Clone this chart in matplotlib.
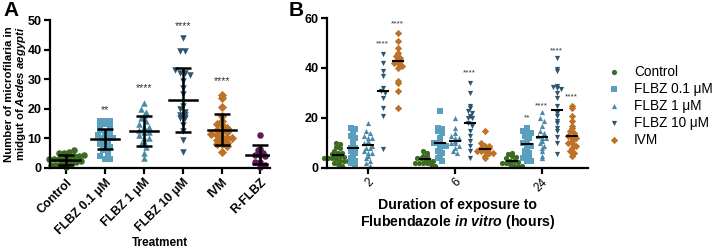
import numpy as np
import matplotlib
matplotlib.use("Agg")
from matplotlib import pyplot as plt

plt.rcParams['font.family'] = ['Liberation Sans', 'DejaVu Sans']
plt.rcParams['mathtext.fontset'] = 'custom'
plt.rcParams['mathtext.it'] = 'Liberation Sans:italic:bold'
plt.rcParams['mathtext.rm'] = 'Liberation Sans:bold'

# ---- panel A data (counts per mosquito) ----
a_groups = ["Control", "FLBZ 0.1 \u03bcM", "FLBZ 1 \u03bcM", "FLBZ 10 \u03bcM", "IVM", "R-FLBZ"]
a_control = [0.5, 1, 1, 1.5, 2, 2, 2, 2.5, 3, 3, 3, 3, 3.5, 4, 4, 4.5, 5, 5, 5.5, 6]
a_flbz01 = [16, 16, 16, 15, 15, 14, 13, 12, 12, 11, 10, 10, 10, 9, 9, 8, 8, 7, 6, 5, 4, 3, 3]
a_flbz1 = [22, 20, 19, 18, 17, 16, 15, 14, 14, 13, 12, 12, 11, 10, 10, 9, 8, 7, 5, 3.5]
a_flbz10 = [44, 39.5, 39.5, 33, 32, 32, 31.5, 29.5, 27, 25, 21, 20, 19, 18, 18, 17, 17, 14.5, 12.5, 9.5, 5.5]
a_ivm = [24.5, 23.5, 20.5, 17.5, 16, 15, 14.5, 13.5, 13, 12.5, 12, 11.5, 11, 10.5, 10, 10, 9.5, 9, 8.5, 8, 8, 7.5, 5.5]
a_rflbz = [11, 6.5, 6, 5, 4.5, 4.5, 4, 2, 2, 1, 0.5]
a_mean = [2.8, 9.8, 12.5, 23.0, 13.0, 4.5]
a_sd = [1.7, 3.5, 5.0, 10.8, 5.2, 3.2]
a_stars = ["", "**", "****", "****", "****", ""]
a_star_y = [0, 19.5, 27, 48, 29.5, 0]

# ---- panel B data ----
b_times = ["2", "6", "24"]
b_series = ["Control", "FLBZ 0.1 \u03bcM", "FLBZ 1 \u03bcM", "FLBZ 10 \u03bcM", "IVM"]
b_control = [
    [10, 9.5, 8.5, 8, 7, 6, 6, 5.5, 5, 5, 4.5, 4, 4, 4, 3.5, 3, 3, 3, 2.5, 2, 1.5, 1],
    [7, 6, 5, 5, 4, 4, 3, 3, 3, 2, 2, 2, 2, 1.5, 1],
    [6, 5.5, 5, 4.5, 4, 3, 3, 2.5, 2, 2, 1.5, 1, 1, 1],
]
b_flbz01 = [
    [16, 15.5, 14, 13, 12, 11, 9, 8, 8, 7, 6, 5, 4, 3, 2, 1.5],
    [23, 16, 15.5, 15, 14, 12, 11, 10, 10, 9, 9, 8, 7, 6, 5, 4, 3],
    [16, 15, 15, 14, 13, 12, 11, 10, 10, 9, 8, 7, 6, 5, 5, 4, 3, 3],
]
b_flbz1 = [
    [18, 15, 14, 13, 12, 12, 11, 10, 10, 9, 8, 8, 7, 6, 6, 5, 4, 3, 2, 1],
    [20, 16, 14, 13, 12, 12, 11, 10, 10, 9, 8, 7, 6],
    [22.5, 20, 19, 17, 15, 14, 13, 12, 12, 11, 10, 9, 8, 7, 5, 4],
]
b_flbz10 = [
    [45.5, 42, 39, 37, 32, 31, 30, 28, 24, 21, 7.5],
    [34, 30, 25, 24, 23, 22, 21, 20, 20, 18, 17, 15, 13, 11, 9, 7, 4],
    [44, 39.5, 39, 33, 32.5, 32, 31.5, 30, 28, 25, 22, 21, 19, 18, 16, 15, 12.5, 10, 5.5],
]
b_ivm = [
    [54, 51, 48, 46, 45, 44, 43, 43, 42, 42, 41, 40, 35, 34, 31, 24],
    [15, 10, 9, 9, 8, 8, 8, 7, 7, 7, 6, 6, 5, 4],
    [25, 24, 21, 19, 17, 16, 15, 14, 13, 12, 12, 11, 10, 10, 9, 8, 7, 6, 5],
]
b_mean = [
    [5.3, 8.0, 9.3, 31.0, 42.7],
    [3.7, 10.2, 11.0, 18.2, 7.8],
    [2.7, 9.7, 12.3, 23.3, 13.0],
]
b_stars = [
    ["", "", "", "****", "****"],
    ["", "", "", "****", ""],
    ["", "**", "****", "****", "****"],
]
b_star_y = [
    [0, 0, 0, 49.5, 57.5],
    [0, 0, 0, 38, 0],
    [0, 20, 25, 47, 28.5],
]

colors = ["#3b6b1e", "#5b9fbf", "#4a8aa8", "#2d566e", "#bd7228", "#62195a"]
markers = ["o", "s", "^", "v", "D", "o"]


def swarm(values, bin_w, step):
    # Prism-like scatter: values in the same bin are spread sideways
    v = np.asarray(values, dtype=float)
    bins = np.round(v / bin_w)
    off = np.zeros(len(v))
    for b in np.unique(bins):
        idx = np.where(bins == b)[0]
        k = len(idx)
        off[idx] = (np.arange(k) - (k - 1) / 2.0) * step
    return off


fig = plt.figure(figsize=(7.17, 2.5), dpi=100)

# ---------------- panel A ----------------
axA = fig.add_axes([0.0697, 0.328, 0.307, 0.592])
a_data = [a_control, a_flbz01, a_flbz1, a_flbz10, a_ivm, a_rflbz]
for i, vals in enumerate(a_data):
    off = swarm(vals, 1.8, 0.13)
    axA.scatter(i + off, vals, s=22, marker=markers[i], color=colors[i],
                linewidths=0, clip_on=False, zorder=2)
    m, sd = a_mean[i], a_sd[i]
    axA.plot([i - 0.36, i + 0.36], [m, m], color='black', lw=1.8, zorder=3)
    axA.errorbar(i, m, yerr=sd, fmt='none', ecolor='black', elinewidth=1.8,
                 capsize=6, capthick=1.8, zorder=3)
    if a_stars[i]:
        axA.text(i, a_star_y[i], a_stars[i], ha='center', va='center',
                 fontsize=7.5, color='#333333')

axA.set_xlim(-0.42, 5.25)
axA.set_ylim(0, 50)
axA.set_yticks([0, 10, 20, 30, 40, 50])
axA.set_xticks(range(len(a_groups)))
axA.set_xticklabels(a_groups, rotation=45, ha='right', rotation_mode='anchor',
                    fontsize=8.8, fontweight='bold')
for lab in axA.get_yticklabels():
    lab.set_fontweight('bold')
    lab.set_fontsize(9)
axA.set_ylabel("Number of microfilaria in\nmidgut of $\\it{Aedes\\ aegypti}$",
               fontsize=8.2, fontweight='bold', labelpad=0, linespacing=1.0)
axA.set_xlabel("Treatment", fontsize=8.5, fontweight='bold', labelpad=0)

# ---------------- panel B ----------------
axB = fig.add_axes([0.456, 0.328, 0.364, 0.6])
b_data = [b_control, b_flbz01, b_flbz1, b_flbz10, b_ivm]
n_s = len(b_series)
gap = 0.172
handles = []
for j in range(len(b_times)):
    for k in range(n_s):
        x0 = j + (k - (n_s - 1) / 2.0) * gap
        vals = b_data[k][j]
        off = swarm(vals, 1.6, 0.045)
        h = axB.scatter(x0 + off, vals, s=14, marker=markers[k], color=colors[k],
                        linewidths=0, clip_on=False, zorder=2)
        if j == 0:
            handles.append(h)
        m = b_mean[j][k]
        axB.plot([x0 - 0.055, x0 + 0.055], [m, m], color='black', lw=1.5, zorder=3)
        if b_stars[j][k]:
            axB.text(x0, b_star_y[j][k], b_stars[j][k], ha='center', va='center',
                     fontsize=6, color='#333333')

axB.set_xlim(-0.47, 2.53)
axB.set_ylim(0, 60)
axB.set_yticks([0, 20, 40, 60])
axB.set_xticks(range(len(b_times)))
axB.set_xticklabels(b_times, rotation=45, ha='right', rotation_mode='anchor',
                    fontsize=8.5)
for lab in axB.get_yticklabels():
    lab.set_fontweight('bold')
    lab.set_fontsize(9)
axB.set_xlabel("Duration of exposure to\nFlubendazole $\\it{in\\ vitro}$ (hours)",
               fontsize=10.2, fontweight='bold', labelpad=3, linespacing=1.05)

for ax in (axA, axB):
    for side in ('top', 'right'):
        ax.spines[side].set_visible(False)
    for side in ('left', 'bottom'):
        ax.spines[side].set_linewidth(1.6)
    ax.tick_params(width=1.6, length=4, pad=2)

fig.legend(handles=handles, labels=b_series, loc='upper left',
           bbox_to_anchor=(0.82, 0.79), frameon=False, fontsize=9.8,
           labelspacing=0.22, handletextpad=0.5, markerscale=1.0)

fig.text(0.005, 0.995, "A", fontsize=15, fontweight='bold', va='top', ha='left')
fig.text(0.402, 0.995, "B", fontsize=15, fontweight='bold', va='top', ha='left')

plt.savefig("out.png", dpi=100)
